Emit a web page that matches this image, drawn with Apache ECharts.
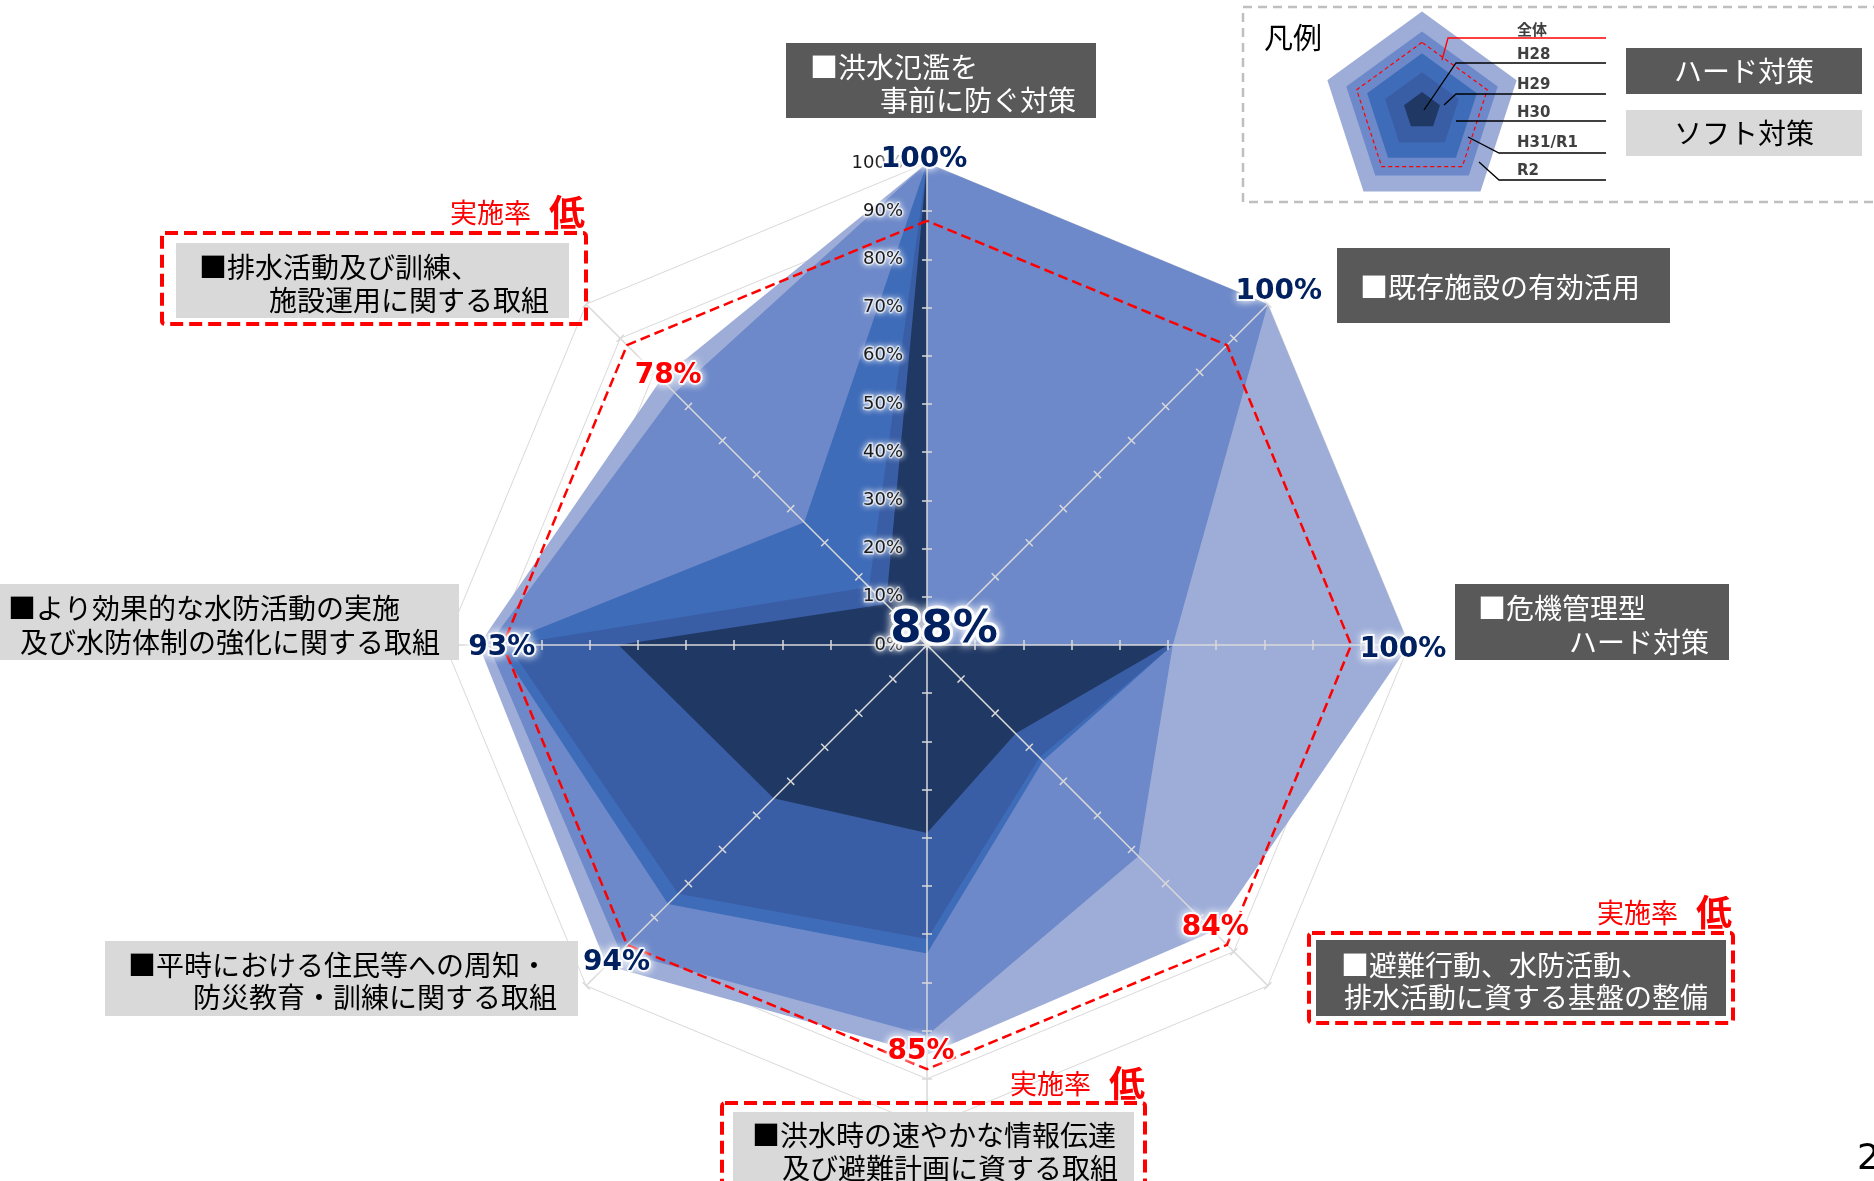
<!DOCTYPE html>
<html>
<head>
<meta charset="utf-8">
<title>実施率</title>
<script src="https://cdn.jsdelivr.net/npm/echarts@6/dist/echarts.min.js"></script>
<style>
	html, body { margin: 0; padding: 0; background: #fff; }
	#chart { width: 1874px; height: 1181px; }
</style>
</head>
<body>
<div id="chart"></div>
<script>
// categories, clockwise from the top axis (two display lines each)
var categoryLines = [
	['■洪水氾濫を', '事前に防ぐ対策'],
	['■既存施設の有効活用'],
	['■危機管理型', 'ハード対策'],
	['■避難行動、水防活動、', '排水活動に資する基盤の整備'],
	['■洪水時の速やかな情報伝達', '及び避難計画に資する取組'],
	['■平時における住民等への周知・', '防災教育・訓練に関する取組'],
	['■より効果的な水防活動の実施', '及び水防体制の強化に関する取組'],
	['■排水活動及び訓練、', '施設運用に関する取組']
];
var categoryType = ['hard', 'hard', 'hard', 'hard', 'soft', 'soft', 'soft', 'soft'];

// implementation rate (%) per year, same order as categories
var years = ['R2', 'H31/R1', 'H30', 'H29', 'H28'];
var rateR2  = [100, 100, 100, 84, 85, 94, 93, 78];
var rateH31 = [100, 100, 51, 62, 81, 90, 91, 74];
var rateH30 = [100, 0, 51, 34, 64, 76, 89, 36];
var rateH29 = [100, 0, 51, 33, 61, 73, 87, 17];
var rateH28 = [100, 0, 50, 26, 39, 45, 64, 12];
var rateAll = [88, 88, 88, 88, 88, 88, 88, 88];   // 全体 (red dashed)
var overallRate = 88;

// value axis
var axisMax = 100;
var axisSplits = 10;

// legend pentagon levels
var legendR2  = [100, 100, 100, 100, 100];
var legendH31 = [80, 80, 80, 80, 80];
var legendH30 = [58, 58, 58, 58, 58];
var legendH29 = [39, 39, 39, 39, 39];
var legendH28 = [19, 19, 19, 19, 19];
var legendAll = [69, 69, 69, 69, 69];
var legendAllName = '全体';
var legendTypes = ['ハード対策', 'ソフト対策'];

(function(){
	'use strict';

	var rates = {'R2': rateR2, 'H31/R1': rateH31, 'H30': rateH30, 'H29': rateH29, 'H28': rateH28};
	var legendRates = {'R2': legendR2, 'H31/R1': legendH31, 'H30': legendH30, 'H29': legendH29, 'H28': legendH28};
	var colors = {'R2': '#9dadd8', 'H31/R1': '#6d89c9', 'H30': '#3f6cb9', 'H29': '#395ea6', 'H28': '#203864'};

	var JP = '"Noto Sans CJK JP", sans-serif';
	var NUM = '"DejaVu Sans", Verdana, sans-serif';

	// echarts radar runs counter-clockwise, the source runs clockwise
	var toRadarOrder = function(arr){
		return [arr[0]].concat(arr.slice(1).reverse());
	};

	var names = toRadarOrder(categoryLines.map(function(l){ return l.join(''); }));

	var makeRadar = function(extra, withLabel){
		var base = {
			center: [927, 645],
			radius: 482,
			startAngle: 90,
			splitNumber: axisSplits,
			shape: 'polygon',
			axisName: {show: false},
			splitArea: {show: false},
			splitLine: {show: false},
			axisLine: {show: false},
			axisTick: {show: false},
			axisLabel: {show: false},
			indicator: names.map(function(n, i){
				return {name: n, max: axisMax, axisLabel: {show: !!withLabel && i === 0}};
			})
		};
		for (var k in extra) base[k] = extra[k];
		return base;
	};

	var radars = [
		// grid rings
		makeRadar({z: 0, splitLine: {show: true, lineStyle: {color: '#d9d9d9', width: 1}}}),
		// spokes, ticks and labels above the areas
		makeRadar({
			z: 3,
			axisLine: {show: true, lineStyle: {color: '#d9d9d9', width: 1.5}},
			axisTick: {show: true, length: 5, lineStyle: {color: '#d9d9d9', width: 1.5}},
			axisLabel: {
				show: true, formatter: '{value}%', margin: 24,
				fontFamily: NUM, fontSize: 18, color: '#1a1a1a',
				textBorderColor: 'rgba(255,255,255,0.6)', textBorderWidth: 3,
				textShadowColor: '#fff', textShadowBlur: 6
			}
		}, true),
		makeRadar({
			z: 3,
			axisTick: {show: true, length: -5, lineStyle: {color: '#d9d9d9', width: 1.5}}
		}, false),
		// legend pentagon
		{
			center: [1422, 111],
			radius: 99.5,
			startAngle: 90,
			shape: 'polygon',
			axisName: {show: false},
			splitArea: {show: false},
			splitLine: {show: false},
			axisLine: {show: false},
			axisTick: {show: false},
			axisLabel: {show: false},
			indicator: [{max: 100}, {max: 100}, {max: 100}, {max: 100}, {max: 100}]
		}
	];

	var series = [];
	years.forEach(function(y){
		series.push({
			type: 'radar', name: y, radarIndex: 0, z: 2, silent: true,
			symbol: 'none',
			lineStyle: {opacity: 0},
			areaStyle: {color: colors[y], opacity: 1},
			data: [{name: y, value: toRadarOrder(rates[y])}]
		});
		series.push({
			type: 'radar', name: y, radarIndex: 3, z: 2, silent: true,
			symbol: 'none',
			lineStyle: {opacity: 0},
			areaStyle: {color: colors[y], opacity: 1},
			data: [{name: y, value: legendRates[y]}]
		});
	});

	// 全体
	series.push({
		type: 'radar', name: legendAllName, radarIndex: 0, z: 4, silent: true,
		symbol: 'none',
		lineStyle: {color: '#ff0000', width: 2.5, type: [10, 5]},
		data: [{value: toRadarOrder(rateAll)}]
	});
	series.push({
		type: 'radar', name: legendAllName, radarIndex: 3, z: 4, silent: true,
		symbol: 'none',
		lineStyle: {color: '#ff0000', width: 1.2, type: [4, 3]},
		data: [{value: legendAll}]
	});

	// R2 value labels, red where below the overall rate.
	// one item per axis so every label can be nudged like in the slide
	var labelNudge = [[-3, -3], [11, -12], [-6, 5], [2, -4], [-6, -3], [10, -3], [23, 3], [7, -3]];
	var labelStyle = function(color){
		return {
			color: color, fontFamily: NUM, fontWeight: 'bold', fontSize: 28,
			textBorderColor: 'rgba(255,255,255,0.85)', textBorderWidth: 4,
			textShadowColor: '#fff', textShadowBlur: 8
		};
	};
	var labelItems = rateR2.map(function(v, i){
		var vals = rateR2.map(function(w, j){ return j === i ? w : 0; });
		return {value: toRadarOrder(vals), label: {offset: labelNudge[i]}};
	});
	series.push({
		type: 'radar', name: 'R2 label', radarIndex: 0, z: 5, silent: true,
		symbol: 'circle', symbolSize: 2,
		itemStyle: {color: 'rgba(0,0,0,0)'},
		lineStyle: {opacity: 0},
		label: {
			show: true,
			position: 'inside',
			formatter: function(p){
				if (!p.value) return '';
				return (p.value < overallRate ? '{low|' : '{high|') + p.value + '%}';
			},
			rich: {low: labelStyle('#ff0000'), high: labelStyle('#002060')}
		},
		data: labelItems
	});

	/** annotation boxes **/
	var boxLayout = [
		{rect: [786, 43, 310, 75], lines: [[810, 67, 'left'], [1076, 100, 'right']]},
		{rect: [1337, 248, 333, 75], lines: [[1360, 287, 'left']]},
		{rect: [1455, 584, 274, 76], lines: [[1478, 608, 'left'], [1709, 642, 'right']]},
		{rect: [1316, 940, 410, 76], lines: [[1341, 965, 'left'], [1344, 997, 'left']],
			mark: {rect: [1309, 933, 424, 90], x: 1687, y: 912}},
		{rect: [733, 1112, 401, 90], lines: [[752, 1135, 'left'], [1118, 1168, 'right']],
			mark: {rect: [722, 1103, 423, 100], x: 1100, y: 1083}},
		{rect: [105, 941, 473, 75], lines: [[128, 965, 'left'], [557, 997, 'right']]},
		{rect: [0, 584, 459, 76], lines: [[8, 608, 'left'], [440, 642, 'right']]},
		{rect: [176, 243, 393, 75], lines: [[199, 267, 'left'], [549, 300, 'right']],
			mark: {rect: [162, 233, 424, 91], x: 540, y: 212}}
	];

	var text = function(str, x, y, align, font, fill, extra){
		var st = {text: str, x: 0, y: 0, fill: fill, font: font, align: align, verticalAlign: 'middle'};
		for (var k in extra) st[k] = extra[k];
		return {type: 'text', x: x, y: y, style: st};
	};
	var rect = function(r, style){
		return {type: 'rect', shape: {x: r[0], y: r[1], width: r[2], height: r[3], r: style.r || 0}, style: style};
	};

	var elements = [];
	boxLayout.forEach(function(b, i){
		var hard = categoryType[i] === 'hard';
		if (rateR2[i] < overallRate && b.mark) {
			elements.push(rect(b.mark.rect, {fill: 'none', stroke: '#ff0000', lineWidth: 4, lineDash: [13, 6], r: 3}));
			elements.push(text('実施率', b.mark.x - 9, b.mark.y + 1, 'right', '27px ' + JP, '#ff0000'));
			elements.push(text('低', b.mark.x + 9, b.mark.y, 'left', 'bold 36px ' + JP, '#ff0000'));
		}
		elements.push(rect(b.rect, {fill: hard ? '#595959' : '#d9d9d9'}));
		b.lines.forEach(function(l, j){
			elements.push(text(categoryLines[i][j], l[0], l[1], l[2], '28px ' + JP, hard ? '#fff' : '#000'));
		});
	});

	// overall rate in the centre
	elements.push(text(overallRate + '%', 944, 630, 'center', 'bold 45px ' + NUM, '#002060',
		{stroke: 'rgba(255,255,255,0.9)', lineWidth: 6, textShadowColor: '#fff', textShadowBlur: 10}));

	// legend frame
	elements.push(rect([1243, 7, 660, 195], {fill: 'none', stroke: '#bfbfbf', lineWidth: 2.5, lineDash: [9, 6]}));
	elements.push(text('凡例', 1264, 38, 'left', '29px ' + JP, '#000'));
	var leaders = [
		{pts: [[1442, 60], [1448, 38], [1606, 38]], color: '#ff0000', label: legendAllName, y: 29},
		{pts: [[1424, 110], [1456, 63], [1606, 63]], color: '#000', label: years[4], y: 55},
		{pts: [[1444, 105], [1456, 94], [1606, 94]], color: '#000', label: years[3], y: 85},
		{pts: [[1456, 121], [1606, 121]], color: '#000', label: years[2], y: 113},
		{pts: [[1468, 137], [1499, 153], [1606, 153]], color: '#000', label: years[1], y: 143},
		{pts: [[1479, 162], [1499, 180], [1606, 180]], color: '#000', label: years[0], y: 171}
	];
	leaders.forEach(function(d, i){
		elements.push({type: 'polyline', shape: {points: d.pts}, style: {stroke: d.color, lineWidth: 1.3, fill: null}});
		elements.push(text(d.label, 1517, d.y, 'left',
			'bold 15px ' + (i === 0 ? JP : NUM), '#404040'));
	});
	elements.push(rect([1626, 48, 236, 46], {fill: '#595959'}));
	elements.push(text(legendTypes[0], 1744, 71, 'center', '28px ' + JP, '#fff'));
	elements.push(rect([1626, 110, 236, 46], {fill: '#d9d9d9'}));
	elements.push(text(legendTypes[1], 1744, 133, 'center', '28px ' + JP, '#000'));

	// page number, cut at the edge
	elements.push(text('2', 1857, 1160, 'left', '36px ' + NUM, '#000'));

	var myChart = echarts.init(document.getElementById('chart'));
	var option = {
		animation: false,
		backgroundColor: '#fff',
		radar: radars,
		series: series,
		graphic: {elements: elements.map(function(e){ e.z = 10; return e; })}
	};
	myChart.setOption(option);
})();
</script>
</body>
</html>
